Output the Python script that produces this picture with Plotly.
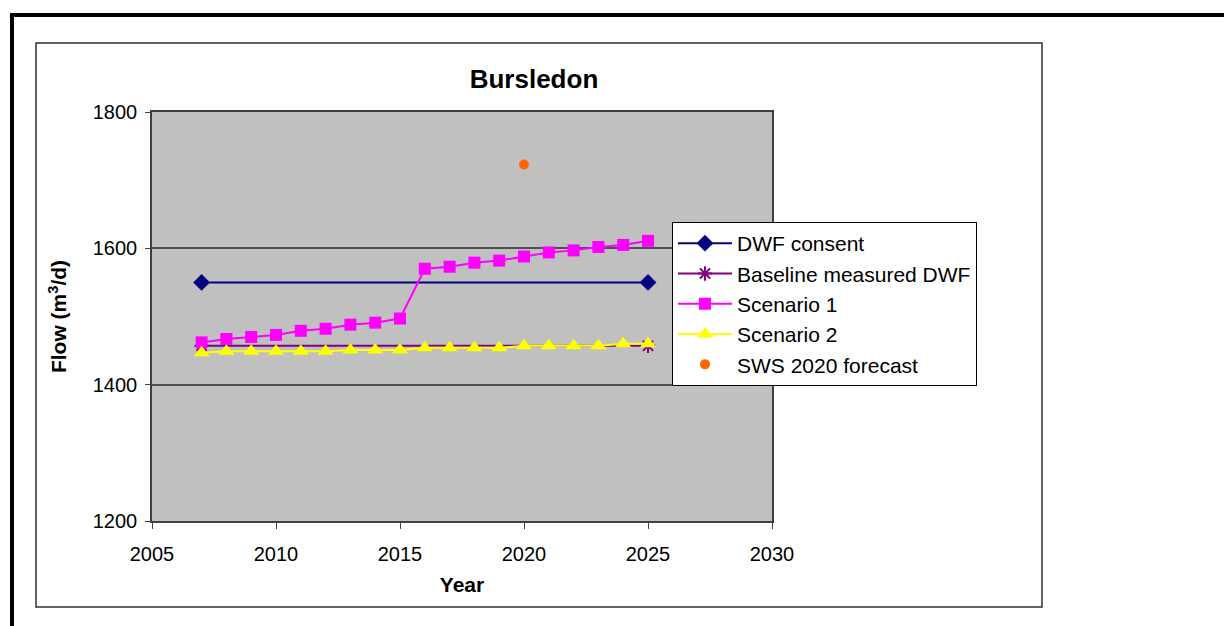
import plotly.graph_objects as go

# Flow data for Bursledon (m3/d)
consent_years = [2007, 2025]
dwf_consent = [1550, 1550]

baseline_years = [2007, 2025]
baseline_dwf = [1457, 1457]

years = list(range(2007, 2026))
scenario_1 = [1462, 1467, 1470, 1473, 1479, 1482, 1488, 1491, 1497,
              1570, 1573, 1579, 1582, 1588, 1594, 1597, 1602, 1605, 1611]
scenario_2 = [1447, 1449, 1449, 1449, 1449, 1449, 1451, 1451, 1451,
              1454, 1454, 1454, 1454, 1457, 1457, 1457, 1457, 1460, 1460]

sws_years = [2020]
sws_forecast = [1723]

FONT = "Liberation Sans, Arial, sans-serif"

fig = go.Figure()
fig.add_trace(go.Scatter(
    x=consent_years, y=dwf_consent, name="DWF consent", mode="lines+markers",
    line=dict(color="#000080", width=2),
    marker=dict(symbol="diamond", size=13, color="#000080")))
fig.add_trace(go.Scatter(
    x=baseline_years, y=baseline_dwf, name="Baseline measured DWF", mode="lines+markers",
    line=dict(color="#800080", width=2),
    marker=dict(symbol="asterisk-open", size=12, line=dict(color="#800080", width=2))))
fig.add_trace(go.Scatter(
    x=years, y=scenario_1, name="Scenario 1", mode="lines+markers",
    line=dict(color="#FF00FF", width=2),
    marker=dict(symbol="square", size=12, color="#FF00FF")))
fig.add_trace(go.Scatter(
    x=years, y=scenario_2, name="Scenario 2", mode="lines+markers",
    line=dict(color="#FFFF00", width=2),
    marker=dict(symbol="triangle-up", size=14, color="#FFFF00")))
fig.add_trace(go.Scatter(
    x=sws_years, y=sws_forecast, name="SWS 2020 forecast", mode="markers",
    marker=dict(symbol="circle", size=10, color="#FF6600")))

# plot area spans pixels x 152..772, y 112..521
L, R, T, B = 152, 772, 112, 521
W, H = 1224, 626


def px(x):
    return (x - L) / (R - L)


def py(y):
    return (B - y) / (B - T)


shapes = [
    # chart frame
    dict(type="rect", xref="paper", yref="paper", x0=px(36), x1=px(1042), y0=py(607), y1=py(43),
         line=dict(color="#303030", width=1.5), layer="below"),
    # page border lines
    dict(type="line", xref="paper", yref="paper", x0=px(10), x1=px(1224), y0=py(15), y1=py(15),
         line=dict(color="black", width=4)),
    dict(type="line", xref="paper", yref="paper", x0=px(12), x1=px(12), y0=py(13), y1=py(626),
         line=dict(color="black", width=4)),
]

fig.update_layout(
    width=W, height=H,
    margin=dict(l=L, r=W - R, t=T, b=H - B),
    paper_bgcolor="white", plot_bgcolor="#C0C0C0",
    font=dict(family=FONT, size=20, color="black"),
    title=dict(text="<b>Bursledon</b>", x=px(534), xanchor="center", xref="paper",
               y=1 - 79 / H, yanchor="middle", font=dict(size=26, family=FONT)),
    showlegend=True,
    legend=dict(x=px(672), y=py(222), xanchor="left", yanchor="top",
                bgcolor="white", bordercolor="black", borderwidth=1,
                font=dict(size=21, family=FONT), itemwidth=54,
                tracegroupgap=0),
    shapes=shapes,
)
fig.update_xaxes(
    range=[2005, 2030], dtick=5, tick0=2005, showgrid=False, zeroline=False,
    showline=True, linecolor="#404040", linewidth=1.5, mirror=True,
    ticks="outside", ticklen=6, tickcolor="#404040",
    tickfont=dict(size=20), ticklabelstandoff=8,
    title=dict(text="<b>Year</b>", font=dict(size=21), standoff=14))
fig.update_yaxes(
    range=[1200, 1800], dtick=200, showgrid=True, gridcolor="#505050", gridwidth=1.5,
    zeroline=False, showline=True, linecolor="#404040", linewidth=1.5, mirror=True,
    ticks="outside", ticklen=5, tickcolor="#404040",
    tickfont=dict(size=20), ticklabelstandoff=4,
    title=dict(text="<b>Flow (m<sup>3</sup>/d)</b>", font=dict(size=21), standoff=20))

fig.write_html("out.html")
